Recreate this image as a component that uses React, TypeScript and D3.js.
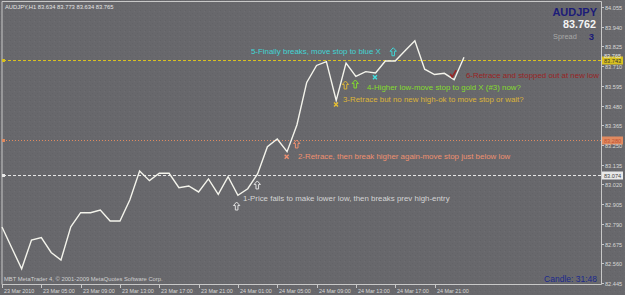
import React, { useEffect, useRef } from 'react'
import * as d3 from 'd3'

// hourly closes, AUDJPY H1, 23-24 Mar 2010
const closes = [
  82.772, 82.649, 82.528, 82.696, 82.71, 82.623, 82.579, 82.773, 82.855, 82.855,
  82.871, 82.807, 82.807, 82.929, 83.098, 83.042, 83.085, 83.085, 83.001, 83.011,
  82.976, 83.052, 82.962, 83.065, 82.957, 82.995, 83.081, 83.24, 83.285, 83.211,
  83.367, 83.615, 83.714, 83.736, 83.51, 83.728, 83.65, 83.678, 83.67, 83.74,
  83.74, 83.8, 83.858, 83.692, 83.661, 83.668, 83.631, 83.762
]

const timeLabels = [
  '23 Mar 2010', '23 Mar 05:00', '23 Mar 09:00', '23 Mar 13:00', '23 Mar 17:00', '23 Mar 21:00',
  '24 Mar 01:00', '24 Mar 05:00', '24 Mar 09:00', '24 Mar 13:00', '24 Mar 17:00', '24 Mar 21:00'
]
const timeLabelBars = [0, 4, 8, 12, 16, 20, 24, 28, 32, 36, 40, 44]

const priceTicks = [
  84.055, 83.94, 83.825, 83.71, 83.595, 83.48, 83.365, 83.25, 83.135, 83.02,
  82.905, 82.79, 82.675, 82.56, 82.445
]

// horizontal stop levels
const levelPrices = [83.743, 83.28, 83.074]
const levelColors = ['#d8c020', '#e08a60', '#e8e8e8']
const levelLabelText = ['#303030', '#c05030', '#404040']

// annotation texts: bar index, price, text, colour
const noteBars = [24.52, 30.11, 34.69, 37.13, 25.33, 47.2]
const notePrices = [82.941, 83.188, 83.518, 83.588, 83.8, 83.658]
const noteTexts = [
  '1-Price fails to make lower low, then breaks prev high-entry',
  '2-Retrace, then break higher again-move stop just below low',
  '3-Retrace but no new high-ok to move stop or wait?',
  '4-Higher low-move stop to gold X (#3) now?',
  '5-Finally breaks, move stop to blue X',
  '6-Retrace and stopped out at new low'
]
const noteColors = ['#d4d4d4', '#ee9070', '#dcb438', '#84dc2c', '#40d4d4', '#9a2424']

// markers: kind, bar index, price, colour
const markKinds = ['arrow', 'arrow', 'arrow', 'x', 'x', 'arrow', 'arrow', 'x', 'arrow', 'check']
const markBars = [23.87, 25.97, 29.98, 28.96, 33.98, 34.94, 35.94, 37.94, 39.8, 45.9]
const markPrices = [82.894, 83.017, 83.256, 83.182, 83.486, 83.6, 83.606, 83.645, 83.794, 83.664]
const markColors = ['#e0e0e0', '#e0e0e0', '#ee9070', '#ee9070', '#e8c030', '#dcb438', '#84dc2c', '#40e0e0', '#40d4d4', '#9a2424']

const W = 625
const H = 295
const FONT = 'Liberation Sans, Arial, sans-serif'

export default function App() {
  const ref = useRef<SVGSVGElement>(null)

  useEffect(() => {
    const svg = d3.select(ref.current)
    svg.selectAll('*').remove()

    const x = d3.scaleLinear().domain([0, 47]).range([2, 464])
    const y = d3.scaleLinear().domain([82.445, 84.055]).range([283, 7])

    const defs = svg.append('defs')
    const pat = defs.append('pattern').attr('id', 'noise').attr('width', 5).attr('height', 5)
      .attr('patternUnits', 'userSpaceOnUse')
    pat.append('rect').attr('width', 5).attr('height', 5).attr('fill', '#68686c')
    pat.append('rect').attr('x', 0).attr('y', 0).attr('width', 1).attr('height', 1).attr('fill', '#626266')
    pat.append('rect').attr('x', 2).attr('y', 3).attr('width', 1).attr('height', 1).attr('fill', '#636367')
    pat.append('rect').attr('x', 4).attr('y', 1).attr('width', 1).attr('height', 1).attr('fill', '#6e6e72')

    svg.append('rect').attr('width', W).attr('height', H).attr('fill', 'url(#noise)')

    // frame
    svg.append('path')
      .attr('d', 'M2,1.5H601.5V284.5H2Z')
      .attr('fill', 'none')
      .attr('stroke', '#c8c8c8')
      .attr('stroke-width', 1)

    // level lines
    levelPrices.forEach((p, i) => {
      const yy = Math.round(y(p)) + 0.5
      svg.append('line')
        .attr('x1', 3).attr('x2', 601).attr('y1', yy).attr('y2', yy)
        .attr('stroke', levelColors[i])
        .attr('stroke-dasharray', i === 1 ? '1,2' : '3,2')
        .attr('stroke-width', 1)
      svg.append('rect').attr('x', 2).attr('y', yy - 1.5).attr('width', 3).attr('height', 3)
        .attr('fill', levelColors[i])
      svg.append('rect').attr('x', 602).attr('y', yy - 4).attr('width', 21).attr('height', 8)
        .attr('fill', levelColors[i])
      svg.append('text').attr('x', 604).attr('y', yy + 2)
        .attr('font-family', FONT).attr('font-size', 5.6)
        .attr('fill', levelLabelText[i])
        .text(p.toFixed(3))
    })

    // price axis
    const ticks = svg.append('g').attr('font-family', FONT).attr('font-size', 5.6).attr('fill', '#d8d8d8')
    priceTicks.forEach(p => {
      const yy = Math.round(y(p)) + 0.5
      ticks.append('line').attr('x1', 601).attr('x2', 604).attr('y1', yy).attr('y2', yy)
        .attr('stroke', '#c8c8c8')
      ticks.append('text').attr('x', 605).attr('y', yy + 2).text(p.toFixed(3))
    })

    // bid label
    const last = closes[closes.length - 1]
    svg.append('text').attr('x', 604).attr('y', Math.round(y(last)) + 1)
      .attr('font-family', FONT).attr('font-size', 5.6).attr('fill', '#e8e8e8')
      .text('83.765')

    // time axis
    const tg = svg.append('g').attr('font-family', FONT).attr('font-size', 5.4).attr('fill', '#d8d8d8')
    timeLabelBars.forEach((b, i) => {
      const xx = Math.round(x(b)) + 0.5
      tg.append('line').attr('x1', xx).attr('x2', xx).attr('y1', 284).attr('y2', 288)
        .attr('stroke', '#c8c8c8')
      tg.append('text').attr('x', xx + 1.5).attr('y', 293).text(timeLabels[i])
    })

    // price line
    const line = d3.line<number>().x((d, i) => x(i)).y(d => y(d))
    svg.append('path')
      .datum(closes)
      .attr('d', line)
      .attr('fill', 'none')
      .attr('stroke', '#f4f4ec')
      .attr('stroke-width', 1.4)

    // markers
    markKinds.forEach((k, i) => {
      const cx = x(markBars[i])
      const cy = y(markPrices[i])
      const g = svg.append('g').attr('transform', `translate(${cx},${cy})`)
      if (k === 'arrow') {
        g.append('path')
          .attr('d', 'M0,-4L3.2,-0.5H1.3V4H-1.3V-0.5H-3.2Z')
          .attr('fill', 'none')
          .attr('stroke', markColors[i])
          .attr('stroke-width', 1)
      } else if (k === 'x') {
        g.append('path')
          .attr('d', 'M-2,-2L2,2M-2,2L2,-2')
          .attr('stroke', markColors[i])
          .attr('stroke-width', 1.4)
      } else {
        g.append('path')
          .attr('d', 'M-3,0L-1,3L3,-4')
          .attr('fill', 'none')
          .attr('stroke', markColors[i])
          .attr('stroke-width', 1.6)
      }
    })

    // annotation texts
    noteTexts.forEach((t, i) => {
      svg.append('text')
        .attr('x', x(noteBars[i]))
        .attr('y', y(notePrices[i]) + 2.9)
        .attr('font-family', FONT)
        .attr('font-size', 7.9)
        .attr('fill', noteColors[i])
        .text(t)
    })

    // header
    svg.append('text').attr('x', 5).attr('y', 9)
      .attr('font-family', FONT).attr('font-size', 5.8).attr('fill', '#e4e4e4')
      .text('AUDJPY,H1  83.634 83.773 83.634 83.765')

    svg.append('text').attr('x', 597).attr('y', 16).attr('text-anchor', 'end')
      .attr('font-family', FONT).attr('font-size', 11).attr('font-weight', 'bold')
      .attr('fill', '#1c1c78').text('AUDJPY')
    svg.append('text').attr('x', 596).attr('y', 28).attr('text-anchor', 'end')
      .attr('font-family', FONT).attr('font-size', 10.8).attr('font-weight', 'bold')
      .attr('fill', '#f4f4f4').text('83.762')
    svg.append('text').attr('x', 553).attr('y', 39)
      .attr('font-family', FONT).attr('font-size', 7.4)
      .attr('fill', '#a8a8a8').text('Spread')
    svg.append('text').attr('x', 594).attr('y', 40).attr('text-anchor', 'end')
      .attr('font-family', FONT).attr('font-size', 9.5).attr('font-weight', 'bold')
      .attr('fill', '#1c1c78').text('3')

    svg.append('text').attr('x', 597).attr('y', 282).attr('text-anchor', 'end')
      .attr('font-family', FONT).attr('font-size', 8.5)
      .attr('fill', '#1c2a8c').text('Candle:  31:48')

    svg.append('text').attr('x', 4).attr('y', 281)
      .attr('font-family', FONT).attr('font-size', 5.8)
      .attr('fill', '#d0d0d0').text('MBT MetaTrader 4, \u00a9 2001-2009 MetaQuotes Software Corp.')
  }, [])

  return (
    <svg
      ref={ref}
      width={W}
      height={H}
      style={{ position: 'absolute', left: 0, top: 0, display: 'block' }}
    />
  )
}
